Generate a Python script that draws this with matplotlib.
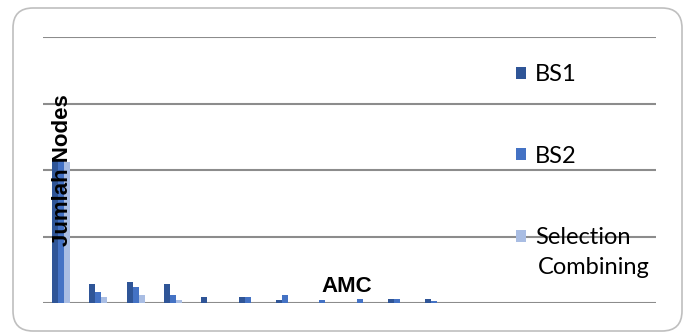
import matplotlib
matplotlib.use("Agg")
import matplotlib.pyplot as plt
from matplotlib.patches import FancyBboxPatch
import numpy as np

plt.rcParams['font.family'] = ['Lato', 'DejaVu Sans']
BOLD = ['Liberation Sans', 'DejaVu Sans']

# node counts per AMC group for each scheme
groups = list(range(11))
bs1 = [10.7, 1.45, 1.6, 1.45, 0.43, 0.43, 0.22, 0.0, 0.0, 0.3, 0.3]
bs2 = [10.7, 0.85, 1.2, 0.6, 0.0, 0.43, 0.6, 0.22, 0.3, 0.3, 0.15]
sc = [10.6, 0.45, 0.6, 0.2, 0.0, 0.0, 0.0, 0.0, 0.0, 0.0, 0.0]
series_names = ['BS1', 'BS2', 'Selection']
colors = ['#2f5597', '#4472c4', '#a9bde3']

fig = plt.figure(figsize=(6.88, 3.33), dpi=100)
ax = fig.add_axes([43 / 688, 30 / 333, 613 / 688, 266 / 333])

# rounded chart border, sized in inches
border = FancyBboxPatch((0.13, 0.02), 6.69, 3.23,
                        boxstyle="round,pad=0,rounding_size=0.2",
                        transform=fig.dpi_scale_trans, facecolor='none',
                        edgecolor='#bfbfbf', linewidth=1.2)
fig.patches.append(border)

x = np.array(groups)
w = 0.16
for k, (vals, name, c) in enumerate(zip([bs1, bs2, sc], series_names, colors)):
    ax.bar(x + (k - 1) * w, vals, width=w, color=c, label=name, zorder=2)

ax.set_ylim(0, 20)
ax.set_xlim(-0.48, 15.94)
ax.set_yticks([0, 5, 10, 15, 20])
ax.yaxis.grid(True, color='#8c8c8c', linewidth=1.5, zorder=1)
ax.set_axisbelow(True)
ax.tick_params(left=False, bottom=False, labelleft=False, labelbottom=False)
for s in ax.spines.values():
    s.set_visible(False)

ax.text(0.031, 0.5, 'Jumlah Nodes', transform=ax.transAxes, rotation=90,
        fontsize=16, fontweight='bold', family=BOLD, ha='center', va='center',
        zorder=5)

ax.text(7.65, 1.25, 'AMC', fontsize=16, fontweight='bold', family=BOLD,
        ha='center', va='center', zorder=5)

leg = ax.legend(loc='upper left', bbox_to_anchor=(464 / 613, 0.934),
                frameon=False, fontsize=17, handlelength=0.4, handleheight=0.4,
                handletextpad=0.4, labelspacing=2.57, borderaxespad=0)
# second line of the last legend label
ax.text(495 / 613, (303 - 268) / 266, 'Combining', transform=ax.transAxes,
        fontsize=17, ha='left', va='center')

fig.savefig('out.png', dpi=100)
